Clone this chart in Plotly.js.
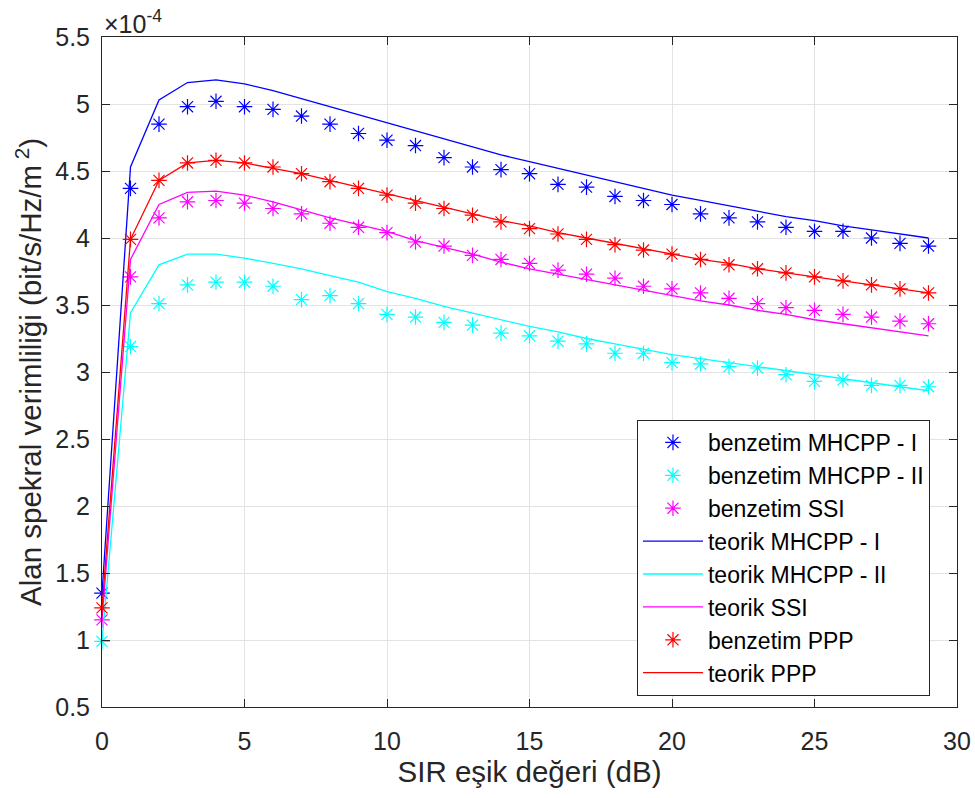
<!DOCTYPE html>
<html>
<head>
<meta charset="utf-8">
<script src="https://cdn.plot.ly/plotly-3.0.1.min.js"></script>
<style>html,body{margin:0;padding:0;background:#fff;}#chart{width:975px;height:798px;}</style>
</head>
<body>
<div id="chart"></div>
<script>
// SIR threshold (dB)
const sirDb = [0,1,2,3,4,5,6,7,8,9,10,11,12,13,14,15,16,17,18,19,20,21,22,23,24,25,26,27,28,29];
// values in units of 1e-4 bit/s/Hz/m^2
const simMHCPP1 = [1.35,4.37,4.85,4.98,5.02,4.98,4.96,4.91,4.85,4.78,4.73,4.69,4.60,4.53,4.51,4.48,4.40,4.38,4.31,4.28,4.25,4.18,4.15,4.12,4.08,4.05,4.05,4.00,3.96,3.94];
const simMHCPP2 = [0.99,3.19,3.51,3.65,3.67,3.67,3.64,3.54,3.57,3.51,3.43,3.41,3.37,3.35,3.29,3.27,3.23,3.21,3.14,3.14,3.07,3.06,3.04,3.03,2.98,2.93,2.94,2.90,2.90,2.89];
const simSSI    = [1.15,3.71,4.15,4.27,4.28,4.26,4.22,4.18,4.11,4.08,4.04,3.97,3.94,3.87,3.84,3.81,3.76,3.73,3.70,3.64,3.62,3.59,3.55,3.51,3.48,3.46,3.43,3.41,3.38,3.36];
const simPPP    = [1.24,3.99,4.43,4.56,4.58,4.56,4.53,4.48,4.42,4.37,4.32,4.26,4.22,4.17,4.12,4.07,4.03,3.99,3.95,3.91,3.88,3.84,3.80,3.77,3.74,3.71,3.68,3.65,3.62,3.59];
const thMHCPP1  = [1.35,4.53,5.03,5.16,5.18,5.15,5.10,5.04,4.98,4.92,4.86,4.80,4.74,4.68,4.62,4.57,4.52,4.47,4.42,4.37,4.32,4.28,4.24,4.20,4.16,4.13,4.09,4.06,4.03,4.00];
const thMHCPP2  = [0.99,3.44,3.80,3.88,3.88,3.85,3.81,3.77,3.72,3.67,3.60,3.55,3.49,3.44,3.39,3.34,3.30,3.25,3.21,3.17,3.13,3.10,3.07,3.04,3.01,2.98,2.95,2.92,2.89,2.86];
const thSSI     = [1.15,3.84,4.25,4.34,4.35,4.32,4.27,4.21,4.15,4.10,4.05,3.98,3.93,3.88,3.82,3.77,3.73,3.69,3.65,3.61,3.57,3.53,3.50,3.46,3.43,3.39,3.36,3.33,3.30,3.27];
const thPPP     = [1.24,3.99,4.43,4.56,4.58,4.56,4.52,4.48,4.43,4.38,4.33,4.28,4.23,4.18,4.13,4.09,4.04,4.00,3.96,3.92,3.88,3.84,3.81,3.77,3.74,3.71,3.68,3.65,3.62,3.59];

const xTicks = [0,5,10,15,20,25,30];
const yTicks = [0.5,1,1.5,2,2.5,3,3.5,4,4.5,5,5.5];
const yTickText = ['0.5','1','1.5','2','2.5','3','3.5','4','4.5','5','5.5'];

const names = ['benzetim MHCPP - I','benzetim MHCPP - II','benzetim SSI','teorik MHCPP - I','teorik MHCPP - II','teorik SSI','benzetim PPP','teorik PPP'];

function mk(y, name, color, g){
  return {x: sirDb, y: y, name: name, type:'scatter', mode:'markers', legendgroup:g, cliponaxis:false,
    marker:{symbol:'asterisk-open', size:13, color:color, line:{color:color, width:1.2}}};
}
function ln(y, name, color, g){
  return {x: sirDb, y: y, name: name, type:'scatter', mode:'lines', legendgroup:g,
    line:{color:color, width:1.3}};
}
const traces = [
  mk(simMHCPP1, names[0], '#0000ff','g1'),
  mk(simMHCPP2, names[1], '#00ffff','g2'),
  mk(simSSI,    names[2], '#ff00ff','g3'),
  ln(thMHCPP1,  names[3], '#0000ff','g4'),
  ln(thMHCPP2,  names[4], '#00ffff','g5'),
  ln(thSSI,     names[5], '#ff00ff','g6'),
  mk(simPPP,    names[6], '#ff0000','g7'),
  ln(thPPP,     names[7], '#ff0000','g8')
];

const FONT = 'Liberation Sans, Arial, Helvetica, sans-serif';
const axisCommon = {
  showline:true, linecolor:'#262626', linewidth:1, mirror:'allticks',
  ticks:'inside', ticklen:8, tickcolor:'#262626', tickwidth:1,
  showgrid:true, gridcolor:'#e3e3e3', gridwidth:1, zeroline:false,
  tickfont:{family:FONT, size:25, color:'#262626'}
};

const layout = {
  width:975, height:798,
  margin:{l:102, r:18, t:37, b:91},
  paper_bgcolor:'#fff', plot_bgcolor:'#fff',
  font:{family:FONT, color:'#262626'},
  showlegend:true,
  xaxis: Object.assign({}, axisCommon, {
    range:[0,30], tickvals:xTicks, ticktext:xTicks.map(String), ticklabelstandoff:12,
    title:{text:'SIR eşik değeri (dB)', font:{size:29.5, color:'#262626'}, standoff:2}
  }),
  yaxis: Object.assign({}, axisCommon, {
    range:[0.5,5.5], tickvals:yTicks, ticktext:yTickText, ticklabelstandoff:6,
    title:{text:'Alan spekral verimliliği (bit/s/Hz/m<sup> 2</sup>)', font:{size:29.5, color:'#262626'}, standoff:4}
  }),
  legend:{
    x:0.6257, y:0.4284, xanchor:'left', yanchor:'top',
    bgcolor:'#ffffff', bordercolor:'#262626', borderwidth:1,
    font:{family:FONT, size:23, color:'#000'}, traceorder:'grouped', tracegroupgap:0,
    itemwidth:60
  },
  annotations:[{
    xref:'paper', yref:'paper', x:0, y:1, xanchor:'left', yanchor:'bottom',
    xshift:0, yshift:-3, showarrow:false,
    text:'×10<sup>-4</sup>', font:{family:FONT, size:25, color:'#262626'}
  }]
};

Plotly.newPlot('chart', traces, layout, {displayModeBar:false, staticPlot:true});
</script>
</body>
</html>
